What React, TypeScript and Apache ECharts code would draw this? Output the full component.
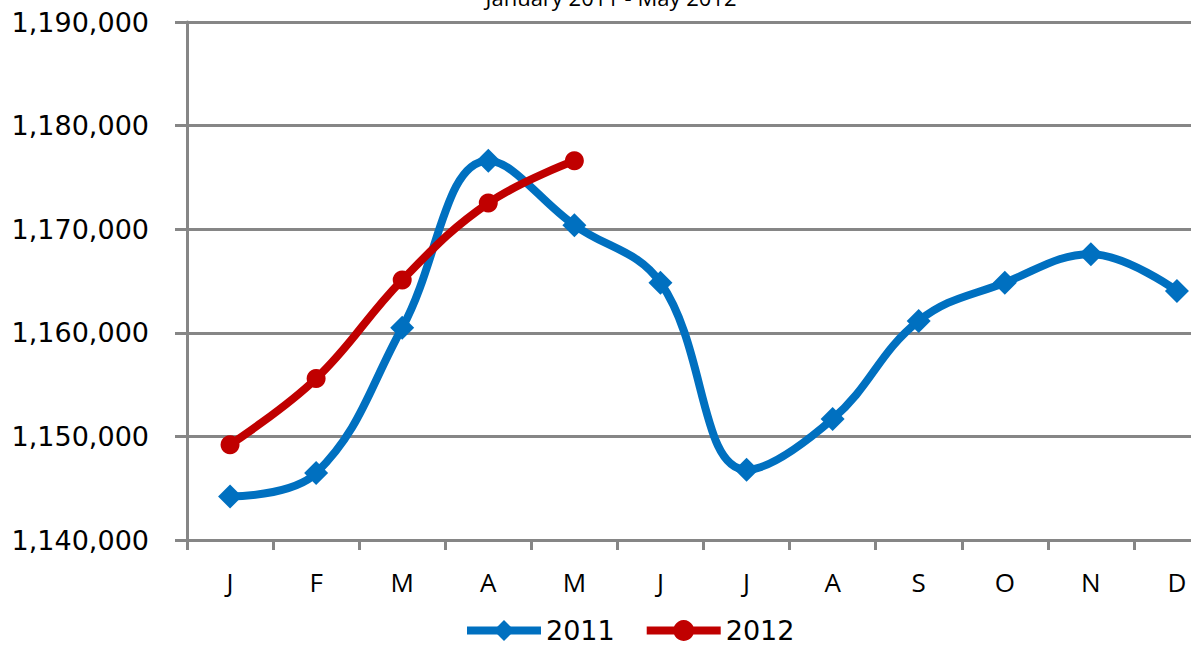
import React, { useEffect, useRef } from "react";
import * as echarts from "echarts";

const months = ["J", "F", "M", "A", "M", "J", "J", "A", "S", "O", "N", "D"];
const series2011 = [1144200, 1146460, 1160490, 1176600, 1170390, 1164840, 1146780, 1151680, 1161150, 1164840, 1167580, 1164040];
const series2012 = [1149200, 1155580, 1165100, 1172520, 1176600];
const yMin = 1140000;
const yMax = 1190000;
const yStep = 10000;
const chartTitle = "January 2011 - May 2012";

const BLUE = "#0070C0";
const RED = "#C00000";
const GRAY = "#868686";

export default function App() {
  const ref = useRef<HTMLDivElement>(null);
  useEffect(() => {
    if (!ref.current) return;
    const chart = echarts.init(ref.current, null, { renderer: "svg" });
    chart.setOption({
      animation: false,
      backgroundColor: "#ffffff",
      graphic: [
        {
          type: "text",
          x: 611,
          y: -14,
          style: {
            text: chartTitle,
            fill: "#000",
            font: '22px "Open Sans", sans-serif',
            align: "center",
            verticalAlign: "top",
          },
        },
      ],
      grid: { left: 187, top: 22, right: 0, bottom: 106, containLabel: false },
      legend: {
        top: 617,
        left: 463,
        padding: 0,
        itemWidth: 74,
        itemHeight: 26,
        itemGap: 28,
        lineStyle: { width: 8 },
        textStyle: { fontFamily: '"DejaVu Sans", sans-serif', fontSize: 27, color: "#000" },
        data: ["2011", "2012"],
      },
      xAxis: {
        type: "category",
        data: months,
        boundaryGap: true,
        axisLine: { show: true, lineStyle: { color: GRAY, width: 3 } },
        axisTick: { show: true, length: 10, interval: 0, lineStyle: { color: GRAY, width: 3 } },
        axisLabel: {
          interval: 0,
          margin: 29,
          color: "#000",
          fontSize: 26,
          fontFamily: '"Liberation Sans Narrow", "Open Sans", sans-serif',
        },
      },
      yAxis: {
        type: "value",
        min: yMin,
        max: yMax,
        interval: yStep,
        axisLine: { show: true, lineStyle: { color: GRAY, width: 3 } },
        axisTick: { show: true, length: 12, lineStyle: { color: GRAY, width: 3 } },
        splitLine: { show: true, lineStyle: { color: GRAY, width: 3 } },
        axisLabel: {
          margin: 38,
          color: "#000",
          fontSize: 27,
          fontFamily: '"DejaVu Sans", sans-serif',
          formatter: (v: number) => v.toLocaleString("en-US"),
        },
      },
      series: [
        {
          name: "2011",
          type: "line",
          data: series2011,
          smooth: 0.4,
          symbol: "diamond",
          symbolSize: 24,
          lineStyle: { color: BLUE, width: 8 },
          itemStyle: { color: BLUE },
          z: 3,
        },
        {
          name: "2012",
          type: "line",
          data: series2012,
          smooth: 0.4,
          symbol: "circle",
          symbolSize: 19,
          lineStyle: { color: RED, width: 8 },
          itemStyle: { color: RED },
          z: 4,
        },
      ],
    });
    return () => chart.dispose();
  }, []);
  return (
    <div
      ref={ref}
      style={{ position: "fixed", left: 0, top: 0, width: 1220, height: 646, background: "#fff" }}
    />
  );
}
